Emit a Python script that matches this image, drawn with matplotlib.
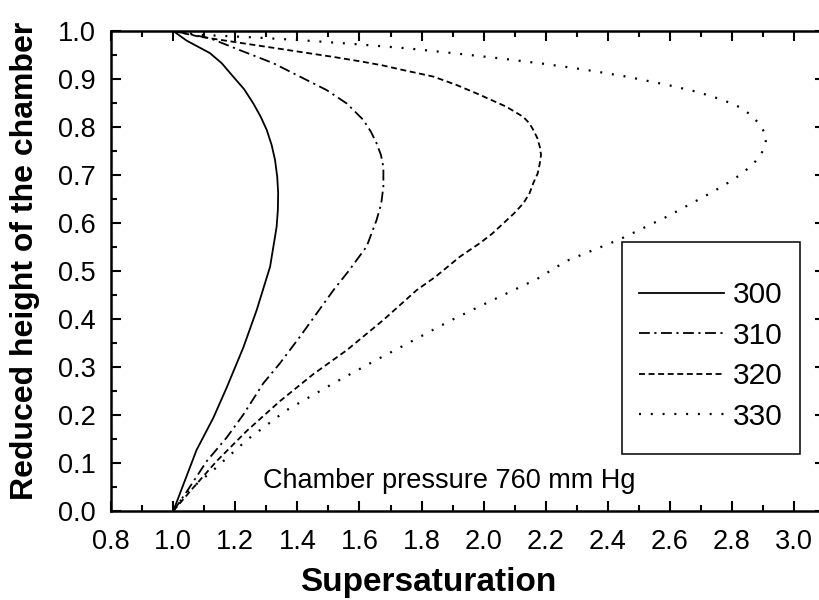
import matplotlib
matplotlib.use("Agg")
import matplotlib.pyplot as plt
from matplotlib.ticker import MultipleLocator, FormatStrFormatter
from matplotlib.patches import Rectangle

plt.rcParams['font.family'] = ['Liberation Sans', 'DejaVu Sans']

# Data (reduced height y vs supersaturation x)
y300 = [0.0, 0.127, 0.194, 0.257, 0.341, 0.419, 0.509, 0.592, 0.627, 0.662, 0.696, 0.731, 0.7625, 0.794,
        0.821, 0.849, 0.879, 0.905, 0.933, 0.954, 0.98, 1.0]
x300 = [1.0, 1.075, 1.129, 1.172, 1.226, 1.269, 1.312, 1.333, 1.337, 1.338, 1.335, 1.328, 1.317, 1.301,
        1.282, 1.258, 1.228, 1.193, 1.156, 1.118, 1.043, 1.0]

y310 = [0.0, 0.04, 0.104, 0.153, 0.201, 0.266, 0.308, 0.363, 0.46, 0.50, 0.551, 0.606, 0.64, 0.676, 0.717,
        0.742, 0.766, 0.79, 0.815, 0.849, 0.877, 0.905, 0.933, 0.96, 0.985, 1.0]
x310 = [1.0, 1.043, 1.108, 1.172, 1.226, 1.29, 1.344, 1.408, 1.516, 1.565, 1.623, 1.655, 1.670, 1.677, 1.677,
        1.669, 1.655, 1.637, 1.612, 1.559, 1.494, 1.408, 1.322, 1.215, 1.118, 1.0]

y320 = [0.0, 0.049, 0.104, 0.167, 0.229, 0.285, 0.335, 0.398, 0.46, 0.488, 0.53, 0.558, 0.578, 0.599, 0.62,
        0.641, 0.662, 0.683, 0.703, 0.724, 0.742, 0.759, 0.777, 0.794, 0.808, 0.821, 0.842, 0.867, 0.8875,
        0.905, 0.92, 0.928, 0.936, 0.946, 0.967, 0.988, 1.0]
x320 = [1.0, 1.065, 1.14, 1.237, 1.344, 1.451, 1.559, 1.677, 1.784, 1.845, 1.924, 1.988, 2.028, 2.063, 2.098,
        2.128, 2.148, 2.16, 2.174, 2.181, 2.185, 2.181, 2.173, 2.16, 2.147, 2.128, 2.074, 1.988, 1.913,
        1.838, 1.731, 1.677, 1.61, 1.516, 1.301, 1.086, 1.0]

y330 = [0.0, 0.039, 0.085, 0.148, 0.21, 0.266, 0.315, 0.348, 0.396, 0.44, 0.483, 0.521, 0.566, 0.613, 0.658,
        0.679, 0.7, 0.719, 0.738, 0.759, 0.78, 0.80, 0.821, 0.84, 0.856, 0.873, 0.888, 0.905, 0.92, 0.932,
        0.943, 0.954, 0.964, 0.973, 0.981, 0.987, 0.992, 1.0]
x330 = [1.0, 1.043, 1.129, 1.237, 1.365, 1.516, 1.655, 1.752, 1.891, 2.031, 2.171, 2.267, 2.439, 2.59, 2.719,
        2.776, 2.826, 2.862, 2.89, 2.906, 2.912, 2.895, 2.869, 2.83, 2.772, 2.69, 2.59, 2.46, 2.321, 2.19,
        2.053, 1.9, 1.752, 1.58, 1.408, 1.25, 1.086, 1.0]

labels = ['300', '310', '320', '330']

W, H = 819, 600
fig = plt.figure(figsize=(W / 100, H / 100), dpi=100)
ax = fig.add_axes([111.2 / W, 1 - 511 / H, (825 - 111.2) / W, (511 - 31) / H])

kw = dict(color='black', solid_joinstyle='round', dash_joinstyle='round')
ax.plot(x300, y300, lw=1.3, linestyle='-', label=labels[0], **kw)
ax.plot(x310, y310, lw=1.3, linestyle=(0, (6, 2.5, 1.2, 2.5)), label=labels[1], **kw)
ax.plot(x320, y320, lw=1.3, linestyle=(0, (3.3, 2.0)), label=labels[2], **kw)
ax.plot(x330, y330, lw=1.6, linestyle=(0, (0.9, 4.4)), label=labels[3], **kw)

ax.set_xlim(0.8, 3.1)
ax.set_ylim(0.0, 1.0)
ax.xaxis.set_major_locator(MultipleLocator(0.2))
ax.xaxis.set_minor_locator(MultipleLocator(0.1))
ax.yaxis.set_major_locator(MultipleLocator(0.1))
ax.yaxis.set_minor_locator(MultipleLocator(0.05))
ax.xaxis.set_major_formatter(FormatStrFormatter('%.1f'))
ax.yaxis.set_major_formatter(FormatStrFormatter('%.1f'))
ax.tick_params(which='both', direction='in', top=True, right=True, width=1.5, colors='black')
ax.tick_params(which='major', length=7.5, labelsize=19.5)
ax.tick_params(which='minor', length=4)
ax.tick_params(axis='x', which='major', pad=13)
ax.tick_params(axis='y', which='major', pad=11)
for s in ax.spines.values():
    s.set_linewidth(1.8)

ax.text(263 / W, 1 - 481 / H, 'Chamber pressure 760 mm Hg', transform=fig.transFigure,
        fontsize=19.5, ha='left', va='center')

fig.text(428 / W, 1 - 582 / H, 'Supersaturation', fontsize=24, fontweight='bold',
         ha='center', va='center')
fig.text(25 / W, 1 - 261 / H, 'Reduced height of the chamber', fontsize=23, fontweight='bold',
         ha='center', va='center', rotation=90)

# legend box
fig.patches.append(Rectangle((622 / W, 1 - 454 / H), (800 - 622) / W, (454 - 242) / H,
                             transform=fig.transFigure, fill=False, edgecolor='black', lw=1.1))
leg = ax.legend(loc='center', bbox_to_anchor=((622 + 800) / 2 / W, 1 - (242 + 454) / 2 / H - 8 / H),
                bbox_transform=fig.transFigure, frameon=False, fontsize=21.5,
                handlelength=2.85, handletextpad=0.28, labelspacing=0.42, borderpad=0)

fig.savefig('out.png', dpi=100)
